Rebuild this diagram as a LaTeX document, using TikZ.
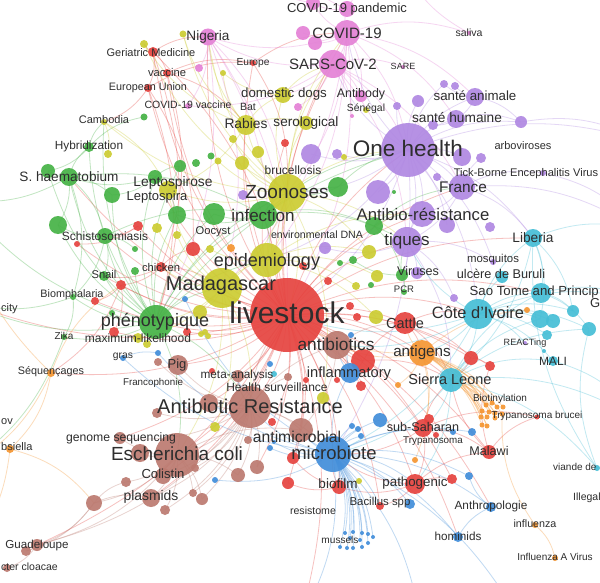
\documentclass[tikz,border=0pt]{standalone}
\usepackage{fontspec}
\setmainfont{Liberation Sans}
\pgfdeclarelayer{back}\pgfdeclarelayer{bg}\pgfsetlayers{back,bg,main}
\definecolor{cRed}{RGB}{230,68,64}
\definecolor{cGreen}{RGB}{70,178,70}
\definecolor{cYellow}{RGB}{204,204,50}
\definecolor{cPurple}{RGB}{176,136,226}
\definecolor{cPink}{RGB}{228,130,214}
\definecolor{cCyan}{RGB}{70,190,214}
\definecolor{cOrange}{RGB}{245,150,50}
\definecolor{cBrown}{RGB}{188,122,112}
\definecolor{cBlue}{RGB}{66,142,218}
\tikzset{
 dot/.style={circle,inner sep=0pt,draw=none,fill opacity=0.92},
 lbl/.style={inner sep=0pt,text=black!82},
 e/.style={line width=0.8pt,draw opacity=0.33},
}
\newcommand\mynd[5]{\node[dot,fill=#5,minimum size=#4*2pt] (#1) at (#2,#3) {};}
\newcommand\mylb[5]{\node[lbl,font=\fontsize{#4}{#4}\selectfont] (#1) at (#2,#3) {#5};}
\newcommand\hub[3]{\foreach \b in {#3}{\draw[e,draw=#1] (#2.center) to[bend left=18] (\b.center);}}
\begin{document}
\begin{tikzpicture}[x=1pt,y=-1pt]
\begin{pgfonlayer}{back}
\fill[white] (0,0) rectangle (600,583);
\end{pgfonlayer}
\useasboundingbox (0,0) rectangle (600,583);
% off-canvas ends
\coordinate (oL1) at (-40,300); \coordinate (oL2) at (-40,200); \coordinate (oL3) at (-40,470); \coordinate (oL4) at (-40,560);
\coordinate (oT1) at (290,-40); \coordinate (oT2) at (400,-40); \coordinate (oT3) at (230,-40);
\coordinate (oR1) at (640,140); \coordinate (oR2) at (640,230); \coordinate (oR3) at (640,300); \coordinate (oR4) at (640,420); \coordinate (oR5) at (640,520);
\coordinate (oB1) at (300,620); \coordinate (oB2) at (420,620); \coordinate (oB3) at (520,620);
% ---------- pink
\mynd{pa}{313}{3}{7}{cPink}
\mynd{covpand}{347}{9}{8}{cPink}
\mynd{covid}{347}{33}{13}{cPink}
\mynd{pk1}{303}{33}{7}{cPink}
\mynd{pk2}{315}{43}{7}{cPink}
\mynd{sars}{333}{64}{14}{cPink}
\mynd{saliva}{469}{33}{2}{cPink}
\mynd{sare}{403}{67}{2}{cPink}
\mynd{antibody}{361}{96}{6}{cPink}
\mynd{senegal}{352}{116}{2}{cPink}
\mynd{pk3}{298}{107}{4}{cPink}
\mynd{nigeria}{208}{37}{8.5}{cPink}
\mynd{pk4}{199}{68}{4}{cPink}
\mynd{covvac}{188}{106}{3}{cPink}
% ---------- red
\mynd{ger}{153}{52}{5}{cRed}
\mynd{vac}{167}{73}{4}{cRed}
\mynd{eu}{148}{88}{4}{cRed}
\mynd{europe}{253}{63}{3}{cRed}
\mynd{rd1}{285}{143}{4}{cRed}
\mynd{rd2}{138}{226}{5}{cRed}
\mynd{rd3}{77}{244}{3}{cRed}
\mynd{rd4}{193}{249}{7}{cRed}
\mynd{chicken}{161}{267}{5}{cRed}
\mynd{rd5}{121}{285}{5}{cRed}
\mynd{rd6}{95}{301}{4}{cRed}
\mynd{rd7}{114}{332}{5}{cRed}
\mynd{rd8}{187}{332}{4}{cRed}
\mynd{live}{287}{315}{37}{cRed}
\mynd{rd9}{328}{281}{4}{cRed}
\mynd{rd10}{350}{306}{4}{cRed}
\mynd{rd11}{357}{317}{4}{cRed}
\mynd{cattle}{405}{323}{11}{cRed}
\mynd{rd12}{363}{361}{12}{cRed}
\mynd{rd13}{361}{386}{5}{cRed}
\mynd{rd14}{337}{380}{3}{cRed}
\mynd{rd15}{212}{371}{3}{cRed}
\mynd{rd16}{306}{380}{3}{cRed}
\mynd{rd17}{272}{422}{4}{cRed}
\mynd{rd18}{293}{458}{6}{cRed}
\mynd{rd19}{288}{483}{6}{cRed}
\mynd{biofilm}{339}{487}{7}{cRed}
\mynd{bacillus}{380}{506}{4}{cRed}
\mynd{path}{415}{484}{10}{cRed}
\mynd{rd20}{452}{479}{5}{cRed}
\mynd{subsah}{423}{428}{9}{cRed}
\mynd{rd21}{429}{419}{5}{cRed}
\mynd{rd22}{436}{435}{3}{cRed}
\mynd{malawi}{489}{452}{7}{cRed}
\mynd{rd23}{471}{358}{7}{cRed}
\mynd{rd24}{490}{366}{5}{cRed}
\mynd{tbrucei}{537}{417}{2.5}{cRed}
\mynd{rd25}{303}{266}{4}{cRed}
% ---------- yellow
\mynd{yl1}{183}{34}{3.5}{cYellow}
\mynd{yl2}{144}{44}{4}{cYellow}
\mynd{yl3}{223}{73}{3}{cYellow}
\mynd{dogs}{283}{95}{8}{cYellow}
\mynd{cambodia}{104}{122}{3}{cYellow}
\mynd{rabies}{246}{125}{10}{cYellow}
\mynd{yl4}{108}{154}{4}{cYellow}
\mynd{yl5}{233}{139}{4}{cYellow}
\mynd{yl6}{258}{152}{6}{cYellow}
\mynd{yl7}{242}{163}{7}{cYellow}
\mynd{yl8}{218}{161}{3.5}{cYellow}
\mynd{serol}{306}{123}{7}{cYellow}
\mynd{yl9}{344}{157}{3}{cYellow}
\mynd{zoon}{287}{193}{19}{cYellow}
\mynd{lepto}{168}{190}{9}{cYellow}
\mynd{yl10}{157}{228}{5}{cYellow}
\mynd{yl11}{177}{235}{4}{cYellow}
\mynd{yl12}{210}{249}{4}{cYellow}
\mynd{epi}{267}{260}{17}{cYellow}
\mynd{mada}{222}{288}{20}{cYellow}
\mynd{yl14}{200}{312}{7}{cYellow}
\mynd{yl15}{205}{332}{3}{cYellow}
\mynd{yl16}{138}{338}{5}{cYellow}
\mynd{yl17}{147}{344}{4}{cYellow}
\mynd{yl18}{201}{334}{3}{cYellow}
\mynd{yl19}{208}{336}{3}{cYellow}
\mynd{yl20}{369}{252}{7}{cYellow}
\mynd{yl21}{377}{276}{6}{cYellow}
\mynd{yl22}{356}{286}{4}{cYellow}
\mynd{yl23}{376}{317}{7}{cYellow}
\mynd{yl24}{323}{398}{6}{cYellow}
\mynd{yl25}{215}{427}{5}{cYellow}
\mynd{yl26}{359}{481}{3}{cYellow}
\mynd{yl27}{366}{110}{3}{cYellow}
% ---------- green
\mynd{gr1}{144}{117}{3.5}{cGreen}
\mynd{hybrid}{89}{147}{5}{cGreen}
\mynd{gr2}{211}{156}{3.5}{cGreen}
\mynd{gr3}{196}{163}{4}{cGreen}
\mynd{gr4}{180}{166}{6}{cGreen}
\mynd{gr5}{48}{171}{7}{cGreen}
\mynd{shaem}{69}{177}{9}{cGreen}
\mynd{leptose}{155}{177}{7}{cGreen}
\mynd{gr6}{112}{195}{8}{cGreen}
\mynd{gr7}{177}{215}{9}{cGreen}
\mynd{gr8}{214}{214}{11}{cGreen}
\mynd{infect}{263}{215}{14}{cGreen}
\mynd{gr9}{338}{187}{10}{cGreen}
\mynd{gr10}{374}{226}{9}{cGreen}
\mynd{gr11}{58}{225}{9}{cGreen}
\mynd{schisto}{105}{236}{8}{cGreen}
\mynd{gr12}{135}{249}{3}{cGreen}
\mynd{gr13}{135}{271}{4}{cGreen}
\mynd{snail}{104}{276}{5}{cGreen}
\mynd{biomph}{73}{297}{3}{cGreen}
\mynd{gr14}{112}{313}{3}{cGreen}
\mynd{pheno}{156}{322}{17}{cGreen}
\mynd{zika}{64}{337}{3}{cGreen}
\mynd{gr15}{353}{260}{4}{cGreen}
\mynd{gr16}{340}{263}{3}{cGreen}
\mynd{viruses}{402}{275}{6}{cGreen}
\mynd{pcr}{404}{292}{3}{cGreen}
\mynd{gr17}{371}{285}{3}{cGreen}
\mynd{gr18}{394}{192}{2}{cGreen}
% ---------- purple
\mynd{pu1}{243}{195}{5}{cPurple}
\mynd{pu2}{311}{154}{10}{cPurple}
\mynd{pu3}{337}{154}{5}{cPurple}
\mynd{onehealth}{408}{150}{27}{cPurple}
\mynd{pu4}{378}{192}{12}{cPurple}
\mynd{antibio}{422}{214}{13}{cPurple}
\mynd{pu5}{447}{225}{8}{cPurple}
\mynd{pu6}{490}{227}{5}{cPurple}
\mynd{tiques}{407}{242}{15}{cPurple}
\mynd{pu7}{325}{248}{6}{cPurple}
\mynd{pu8}{417}{273}{6}{cPurple}
\mynd{mosq}{493}{262}{3}{cPurple}
\mynd{pu9}{454}{298}{4}{cPurple}
\mynd{react}{525}{343}{2}{cPurple}
\mynd{france}{462}{187}{13}{cPurple}
\mynd{pu10}{437}{177}{4}{cPurple}
\mynd{pu11}{462}{157}{9}{cPurple}
\mynd{pu12}{481}{158}{5}{cPurple}
\mynd{tbev}{543}{173}{3}{cPurple}
\mynd{pu13}{521}{122}{6}{cPurple}
\mynd{sh}{456}{119}{9}{cPurple}
\mynd{pu14}{433}{125}{5}{cPurple}
\mynd{sa}{475}{97}{9}{cPurple}
\mynd{pu15}{418}{101}{6}{cPurple}
\mynd{pu16}{397}{106}{4}{cPurple}
\mynd{pu17}{444}{84}{4}{cPurple}
\mynd{pu18}{455}{86}{4}{cPurple}
% ---------- cyan
\mynd{liberia}{533}{238}{9}{cCyan}
\mynd{ulcere}{502}{277}{6}{cCyan}
\mynd{saotome}{541}{293}{10}{cCyan}
\mynd{cote}{478}{314}{15}{cCyan}
\mynd{cy1}{540}{319}{9}{cCyan}
\mynd{cy2}{553}{321}{7}{cCyan}
\mynd{cy3}{573}{311}{6}{cCyan}
\mynd{cy4}{589}{329}{7}{cCyan}
\mynd{cy5}{547}{335}{5}{cCyan}
\mynd{cy6}{544}{351}{2}{cCyan}
\mynd{mali}{553}{361}{5}{cCyan}
\mynd{sierra}{451}{380}{12}{cCyan}
\mynd{cy7}{274}{374}{3}{cCyan}
\mynd{viande}{597}{468}{3}{cCyan}
% ---------- orange
\mynd{seq}{51}{373}{4}{cOrange}
\mynd{kleb}{10}{449}{4}{cOrange}
\mynd{or1}{231}{248}{4}{cOrange}
\mynd{antigens}{422}{353}{13}{cOrange}
\mynd{or2}{398}{385}{3}{cOrange}
\mynd{or3}{527}{310}{3}{cOrange}
\mynd{or4}{415}{460}{3}{cOrange}
\mynd{infl}{535}{525}{3}{cOrange}
\mynd{inflA}{555}{558}{3}{cOrange}
\foreach \i/\x/\y in {1/486/405,2/492/403,3/497/407,4/503/407,5/482/411,6/489/412,7/495/413,8/502/414,9/481/417,10/487/417,11/495/418,12/482/425,13/487/426}
 {\node[dot,fill=cOrange,minimum size=5pt] (b\i) at (\x,\y) {};}
% ---------- brown
\mynd{pig}{178}{365}{10}{cBrown}
\mynd{br1}{158}{362}{4}{cBrown}
\mynd{meta}{238}{376}{6}{cBrown}
\mynd{br2}{288}{377}{4}{cBrown}
\mynd{abx}{337}{345}{14}{cBrown}
\mynd{abr}{250}{407}{21}{cBrown}
\mynd{br3}{209}{403}{9}{cBrown}
\mynd{br4}{157}{413}{5}{cBrown}
\mynd{br5}{248}{440}{4}{cBrown}
\mynd{genome}{120}{438}{6}{cBrown}
\mynd{br6}{140}{453}{9}{cBrown}
\mynd{ecoli}{177}{455}{22}{cBrown}
\mynd{amr}{301}{430}{12}{cBrown}
\mynd{br7}{257}{467}{7}{cBrown}
\mynd{br8}{238}{475}{7}{cBrown}
\mynd{br9}{195}{468}{4}{cBrown}
\mynd{colistin}{163}{476}{8}{cBrown}
\mynd{br10}{126}{482}{5}{cBrown}
\mynd{br11}{94}{503}{8}{cBrown}
\mynd{plasmids}{151}{498}{9}{cBrown}
\mynd{br12}{193}{493}{4}{cBrown}
\mynd{br13}{202}{499}{6}{cBrown}
\mynd{br14}{165}{510}{5}{cBrown}
\mynd{guad}{37}{545}{6}{cBrown}
\mynd{br15}{26}{551}{5}{cBrown}
\mynd{br17}{7}{568}{4}{cBrown}
% ---------- blue
\mynd{gras}{123}{358}{3}{cBlue}
\mynd{bl1}{185}{299}{3}{cBlue}
\mynd{bl2}{158}{353}{3}{cBlue}
\mynd{bl3}{270}{364}{3}{cBlue}
\mynd{bl4}{351}{335}{3}{cBlue}
\mynd{inflb}{350}{373}{10}{cBlue}
\mynd{bl5}{380}{420}{7}{cBlue}
\mynd{bl6}{352}{426}{3}{cBlue}
\mynd{bl7}{358}{429}{3}{cBlue}
\mynd{bl8}{361}{436}{3}{cBlue}
\mynd{micro}{333}{454}{18}{cBlue}
\mynd{bl9}{274}{442}{2}{cBlue}
\mynd{bl10}{270}{448}{3}{cBlue}
\mynd{bl11}{215}{480}{3}{cBlue}
\mynd{bl12}{410}{504}{5}{cBlue}
\mynd{bl13}{453}{432}{3}{cBlue}
\mynd{bl14}{472}{432}{4}{cBlue}
\mynd{bl16}{469}{476}{4}{cBlue}
\mynd{anthro}{491}{507}{5}{cBlue}
\mynd{hominids}{458}{537}{5}{cBlue}
\foreach \i/\x/\y in {1/345/533,2/353/532,3/362/533,4/368/534,5/373/537,6/368/543,7/362/547,8/353/548,9/347/548,10/340/547,11/350/538,12/360/540}
 {\node[dot,fill=cBlue,minimum size=4pt] (m\i) at (\x,\y) {};}
% ================= edges
\begin{pgfonlayer}{bg}
% red
\hub{cRed}{live}{mada,epi,zoon,infect,pheno,abr,ecoli,abx,cattle,antigens,sierra,cote,micro,path,subsah,malawi,biofilm,onehealth,tiques,france,rabies,pig,chicken,snail,ger,vac,eu,europe,nigeria,schisto,leptose,saotome,liberia,rd1,rd4,rd5,rd7,rd8,rd12,rd13,rd17,rd18,rd19,rd20,rd23,rd24,bacillus,amr,plasmids,colistin,genome,guad,covid,sars,antibio,meta,br3,br7,rd2,rd3,rd6,oL1,oB1,shaem,seq,hominids,anthro}
\hub{cRed}{ger}{vac,eu,nigeria,pheno,yl2,live}
\hub{cRed}{vac}{europe,rabies,chicken}
\hub{cRed}{eu}{europe,cambodia,pheno,rd4}
\hub{cRed}{europe}{covid,zoon}
\hub{cRed}{chicken}{snail,rd4,mada,rd5}
\hub{cRed}{rd5}{seq,rd6,rd7}
\hub{cRed}{rd2}{schisto,rd3}
\hub{cRed}{rd12}{cattle,abx,inflb,sierra}
\hub{cRed}{cattle}{antigens,sierra,cote,rd23}
\hub{cRed}{subsah}{malawi,path,sierra,micro,rd22,tbrucei}
\hub{cRed}{path}{biofilm,bacillus,rd20,malawi,micro}
\hub{cRed}{malawi}{tbrucei,sierra,rd24}
\hub{cRed}{rd23}{sierra,rd24}
\hub{cRed}{biofilm}{micro,rd18,rd19}
% green
\hub{cGreen}{pheno}{schisto,shaem,hybrid,biomph,zika,snail,leptose,infect,zoon,mada,abr,gr4,gr6,gr7,gr8,gr11,gr13,gr14,ecoli,epi,cambodia,oL2,oL1,gr5,onehealth}
\hub{cGreen}{shaem}{schisto,hybrid,gr5,gr11,gr6,biomph,oL2,infect}
\hub{cGreen}{schisto}{snail,biomph,gr11,gr12,infect}
\hub{cGreen}{hybrid}{gr1,cambodia,gr5}
\hub{cGreen}{infect}{zoon,gr8,gr9,gr10,tiques,onehealth,epi,gr7}
\hub{cGreen}{gr9}{onehealth,zoon}
\hub{cGreen}{gr10}{antibio,viruses,france}
\hub{cGreen}{viruses}{pcr,tiques,gr15}
\hub{cGreen}{leptose}{gr6,gr7,shaem,gr4}
\hub{cGreen}{biomph}{oL1,zika}
\hub{cGreen}{zika}{oL3}
% yellow
\hub{cYellow}{zoon}{rabies,dogs,serol,epi,mada,infect,onehealth,live,lepto,yl6,yl7,yl5,cambodia,yl1,nigeria,yl2,covid,sars,tiques,yl20,yl24,yl8}
\hub{cYellow}{rabies}{dogs,nigeria,yl1,yl2,serol,yl3,lepto}
\hub{cYellow}{mada}{epi,lepto,pheno,yl10,yl14,yl16,chicken,abr,ecoli,yl25,yl11}
\hub{cYellow}{epi}{yl12,yl20,yl21,yl23,antibio,yl22}
\hub{cYellow}{cambodia}{yl4,lepto}
\hub{cYellow}{dogs}{yl3,sars}
% purple
\hub{cPurple}{onehealth}{france,tiques,antibio,sa,sh,pu2,pu4,pu11,pu13,zoon,live,sars,covid,liberia,cote,mosq,pu5,pu15,pu16,pu17,micro,epi,pu3,oR1}
\hub{cPurple}{france}{tiques,antibio,pu10,pu12,tbev,liberia,oR2}
\hub{cPurple}{tiques}{antibio,pu8,viruses,mosq,pu7,sierra,pu9}
\hub{cPurple}{sa}{sh,pu17,pu18,pu13}
\hub{cPurple}{sh}{pu14,pu13}
\hub{cPurple}{pu13}{oR1}
\hub{cPurple}{tbev}{oR2}
% pink
\hub{cPink}{covid}{sars,covpand,pk1,pk2,saliva,nigeria,onehealth,live,pa,zoon,sh,sa,antibody,mada,epi}
\hub{cPink}{sars}{antibody,onehealth,pk3,senegal,sare,dogs,covvac,nigeria,tiques,france}
\hub{cPink}{nigeria}{pk4,covvac,live,mada,epi,pheno,zoon}
\hub{cPink}{covpand}{pa,oT1,oT2}
\hub{cPink}{pa}{oT3}
\hub{cPink}{saliva}{oT2}
% cyan
\hub{cCyan}{cote}{sierra,liberia,saotome,mali,cy1,cy2,cy3,cy4,cy5,ulcere,live,antigens,micro,react,tiques,abx,oR3}
\hub{cCyan}{liberia}{sierra,saotome,cy1,cy3,oR2}
\hub{cCyan}{sierra}{saotome,mali,cy1,cy4,viande,subsah,micro,path,rd23,oR4}
\hub{cCyan}{saotome}{cy3,cy4,oR3}
\hub{cCyan}{viande}{cy4,liberia}
\hub{cCyan}{mali}{oR4}
% orange
\hub{cOrange}{antigens}{sierra,b1,b2,b3,b4,b5,b6,b7,b8,b9,b10,b11,b12,b13,live,cattle,or2,or4,or3,subsah,abx}
\hub{cOrange}{sierra}{b1,b3,b5,b7,b9,b11,b13}
\hub{cOrange}{seq}{kleb,rd5,oL3,oL2}
\hub{cOrange}{kleb}{br11,oL4}
\hub{cOrange}{infl}{inflA,b8}
% brown
\hub{cBrown}{abr}{ecoli,abx,pig,plasmids,colistin,genome,guad,amr,meta,br2,br3,br4,br5,br7,br8,br9,br12,br13,br14,live,br1,micro}
\hub{cBrown}{ecoli}{plasmids,colistin,genome,br6,br10,br11,guad,br12,br13,br14,amr,br8}
\hub{cBrown}{br11}{guad,br15,plasmids,br10}
\hub{cBrown}{guad}{br15,br17}
\hub{cBrown}{abx}{cattle,amr,inflb}
% blue
\hub{cBlue}{micro}{m1,m2,m3,m4,m5,m6,m7,m8,m9,m10,m11,m12,hominids,anthro,bacillus,bl12,inflb,bl5,gras,bl1,bl2,bl9,bl10,bl11,bl6,bl7,bl8,bl13,bl14,bl16,abr,amr,path,biofilm,oB1,oB2,oB3}
\hub{cBlue}{hominids}{anthro}
\hub{cBlue}{anthro}{bl16}
\hub{cBlue}{gras}{bl2}
\hub{cBlue}{inflb}{bl4,abx}
\end{pgfonlayer}
% ================= labels
\mylb{tcovpand}{347}{9}{13}{COVID-19 pandemic}
\mylb{tcovid}{347}{33}{15}{COVID-19}
\mylb{tsars}{333}{64}{15}{SARS-CoV-2}
\mylb{tsaliva}{469}{33}{10.5}{saliva}
\mylb{tsare}{403}{66}{9}{SARE}
\mylb{tantibody}{361}{94}{12.4}{Antibody}
\mylb{tsenegal}{366}{109}{10.4}{Sénégal}
\mylb{tnigeria}{208}{37}{13.6}{Nigeria}
\mylb{tger}{151}{53}{11}{Geriatric Medicine}
\mylb{tvac}{167}{72}{11.2}{vaccine}
\mylb{teu}{148}{88}{10.8}{European Union}
\mylb{teurope}{253}{63}{10.2}{Europe}
\mylb{tcovvac}{188}{105}{10.5}{COVID-19 vaccine}
\mylb{tbat}{248}{107}{10.5}{Bat}
\mylb{tdogs}{284}{94}{13.3}{domestic dogs}
\mylb{tcambodia}{104}{120}{11}{Cambodia}
\mylb{trabies}{246}{124}{13.8}{Rabies}
\mylb{tserol}{306}{123}{13.6}{serological}
\mylb{thybrid}{89}{146}{11.8}{Hybridization}
\mylb{tshaem}{69}{177}{13.6}{S. haematobium}
\mylb{tleptose}{173}{183}{13.8}{Leptospirose}
\mylb{tlepto}{157}{197}{13}{Leptospira}
\mylb{tbruc}{293}{170}{12}{brucellosis}
\mylb{tzoon}{287}{192}{19}{Zoonoses}
\mylb{tinfect}{263}{215}{17}{infection}
\mylb{toocyst}{213}{232}{11.2}{Oocyst}
\mylb{tenv}{317}{235}{10.6}{environmental DNA}
\mylb{tepi}{267}{262}{18}{epidemiology}
\mylb{tmada}{221}{285}{20}{Madagascar}
\mylb{tlive}{287}{313}{30}{livestock}
\mylb{tschisto}{105}{236}{12}{Schistosomiasis}
\mylb{tchicken}{161}{267}{11.2}{chicken}
\mylb{tsnail}{104}{274}{11.2}{Snail}
\mylb{tbiomph}{72}{295}{10.8}{Biomphalaria}
\mylb{tpheno}{155}{322}{18}{phénotypique}
\mylb{tzika}{64}{336}{10}{Zika}
\mylb{tmaxl}{138}{338}{12}{maximum-likelihood}
\mylb{tgras}{123}{357}{10.3}{gras}
\mylb{tseq}{51}{372}{10.8}{Séquençages}
\mylb{tpig}{177}{365}{13}{Pig}
\mylb{tmeta}{237}{375}{11.8}{meta-analysis}
\mylb{tfranco}{153}{383}{9.8}{Francophonie}
\mylb{thealth}{277}{387}{12}{Health surveillance}
\mylb{tabr}{250}{406}{20}{Antibiotic Resistance}
\mylb{tgenome}{121}{438}{12.2}{genome sequencing}
\mylb{tecoli}{177}{454}{19}{Escherichia coli}
\mylb{tcolistin}{163}{474}{13.1}{Colistin}
\mylb{tplasmids}{151}{497}{13.9}{plasmids}
\mylb{tguad}{37}{545}{11.6}{Guadeloupe}
\node[lbl,font=\fontsize{10.5}{10.5}\selectfont,anchor=west] (tentero) at (1,567) {cter cloacae};
\node[lbl,font=\fontsize{11}{11}\selectfont,anchor=west] (tkleb) at (1,447) {bsiella};
\node[lbl,font=\fontsize{11}{11}\selectfont,anchor=west] (tov) at (1,422) {ov};
\node[lbl,font=\fontsize{11}{11}\selectfont,anchor=west] (tcity) at (1,309) {city};
\mylb{tabx}{336}{344}{17.3}{antibiotics}
\mylb{tinfl}{349}{374}{14.7}{inflammatory}
\mylb{tamr}{297}{437}{15.7}{antimicrobial}
\mylb{tmicro}{334}{453}{18.5}{microbiote}
\mylb{tbiofilm}{338}{484}{13.5}{biofilm}
\mylb{tresist}{313}{511}{10.6}{resistome}
\mylb{tbacillus}{380}{503}{11.4}{Bacillus spp}
\mylb{tpath}{415}{483}{13.3}{pathogenic}
\mylb{tsubsah}{423}{427}{12.6}{sub-Saharan}
\mylb{ttrypa}{433}{441}{9.8}{Trypanosoma}
\mylb{tmalawi}{489}{451}{12.6}{Malawi}
\mylb{ttbrucei}{537}{416}{10}{Trypanosoma brucei}
\mylb{tbiot}{500}{399}{10}{Biotinylation}
\node[lbl,font=\fontsize{10}{10}\selectfont,anchor=west] (tviande) at (553,467) {viande de};
\node[lbl,font=\fontsize{10.5}{10.5}\selectfont,anchor=west] (tillegal) at (573,498) {Illegal};
\mylb{tanthro}{491}{506}{11.8}{Anthropologie}
\mylb{tinfluenza}{535}{524}{10.7}{influenza}
\mylb{thominids}{458}{536}{11.7}{hominids}
\mylb{tinflA}{555}{557}{10}{Influenza A Virus}
\mylb{tmussels}{340}{540}{10.1}{mussels}
\mylb{tcattle}{405}{323}{14.5}{Cattle}
\mylb{tantigens}{422}{353}{15.2}{antigens}
\mylb{tsierra}{450}{379}{14.5}{Sierra Leone}
\mylb{tcote}{478}{313}{16.4}{Côte d’Ivoire}
\node[lbl,font=\fontsize{13.2}{13.2}\selectfont,anchor=east] (tsaotome) at (599,292) {Sao Tome and Princip};
\node[lbl,font=\fontsize{13}{13}\selectfont,anchor=west] (tG) at (590,303) {G};
\mylb{tliberia}{533}{238}{13.7}{Liberia}
\mylb{tulcere}{501}{274}{12.7}{ulcère de Buruli}
\mylb{tmosq}{493}{260}{11.4}{mosquitos}
\mylb{tviruses}{418}{271}{12.6}{Viruses}
\mylb{tpcr}{404}{289}{9.5}{PCR}
\mylb{treact}{525}{343}{9.1}{REACTing}
\mylb{tmali}{553}{361}{12}{MALI}
\mylb{ttiques}{407}{241}{17}{tiques}
\mylb{tantibio}{423}{214}{16.7}{Antibio-résistance}
\mylb{tfrance}{463}{187}{15.4}{France}
\mylb{tonehealth}{408}{148}{22.5}{One health}
\mylb{tsh}{457}{118}{13.7}{santé humaine}
\mylb{tsa}{475}{96}{13.3}{santé animale}
\mylb{tarbo}{523}{146}{11}{arboviroses}
\mylb{ttbev}{526}{174}{11.1}{Tick-Borne Encephalitis Virus}
\end{tikzpicture}
\end{document}
